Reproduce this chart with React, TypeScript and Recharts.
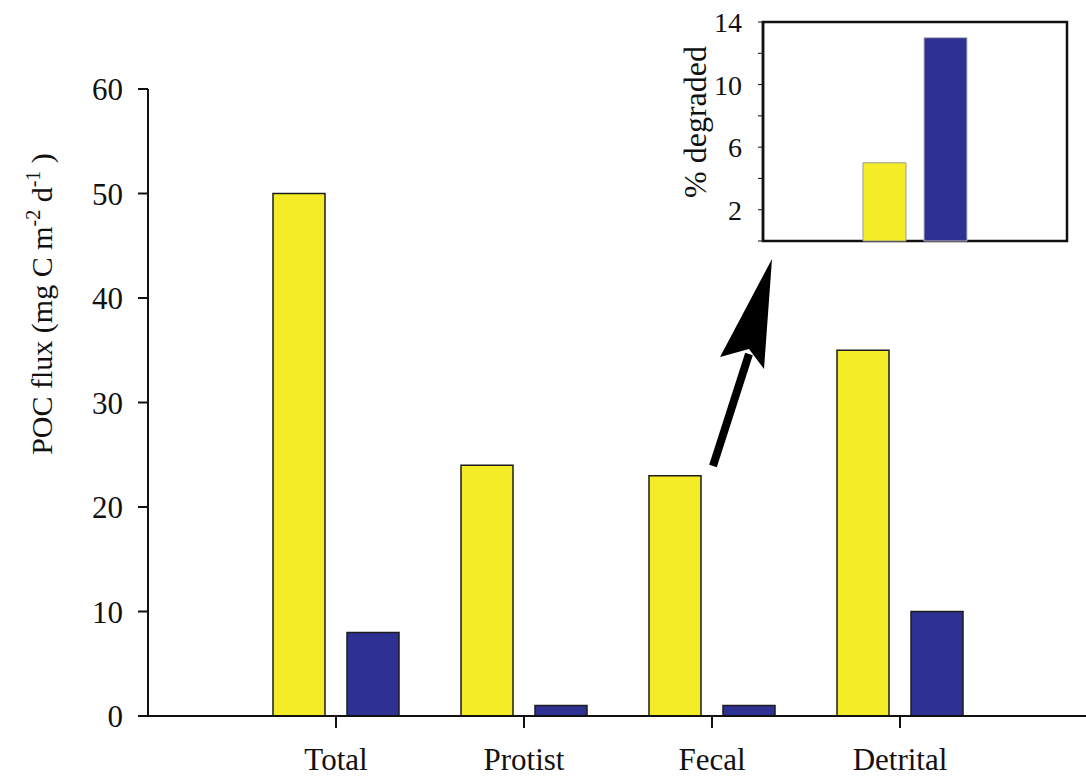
import React from 'react';
import { BarChart, Bar, XAxis, YAxis, ReferenceArea } from 'recharts';

const SERIF = '"Liberation Serif", "Times New Roman", serif';
const YELLOW = '#F4EC27';
const BLUE = '#2E3192';
const INK = '#111';

// main panel: POC flux per category
const categories = ['Total', 'Protist', 'Fecal', 'Detrital'];
const yellowFlux = [50, 24, 23, 35];
const blueFlux = [8, 1, 1, 10];
const fluxTicks = [0, 10, 20, 30, 40, 50, 60];

// inset: % degraded
const insetCategories = ['Fecal'];
const insetYellow = [5];
const insetBlue = [13];
const insetTicks = [0, 2, 4, 6, 8, 10, 12, 14];
const insetTickLabels = [2, 6, 10, 14];

const mainData = categories.map((name, i) => ({
  name,
  yellow: yellowFlux[i],
  blue: blueFlux[i],
}));

const insetData = insetCategories.map((name, i) => ({
  name,
  yellow: insetYellow[i],
  blue: insetBlue[i],
}));

function FluxLabel() {
  return (
    <text
      x={0}
      y={0}
      transform="translate(52, 304) rotate(-90)"
      textAnchor="middle"
      fontFamily={SERIF}
      fontSize={30}
      fill={INK}
    >
      POC flux (mg C m
      <tspan dy={-12} fontSize={20}>-2</tspan>
      <tspan dy={12}> d</tspan>
      <tspan dy={-12} fontSize={20}>-1</tspan>
      <tspan dy={12}> )</tspan>
    </text>
  );
}

function DegradedLabel() {
  return (
    <text
      x={0}
      y={0}
      transform="translate(66, 122) rotate(-90)"
      textAnchor="middle"
      fontFamily={SERIF}
      fontSize={32}
      fill={INK}
    >
      % degraded
    </text>
  );
}

export default function App() {
  return (
    <div style={{ position: 'absolute', left: 0, top: 0, width: 1086, height: 778, background: '#fff' }}>
      <BarChart
        width={1086}
        height={778}
        data={mainData}
        margin={{ top: 89, right: 0, bottom: 12, left: 0 }}
        barGap={22}
      >
        <XAxis
          dataKey="name"
          height={50}
          padding={{ left: 94, right: 92 }}
          tickSize={12}
          tickMargin={20}
          axisLine={{ stroke: INK, strokeWidth: 2 }}
          tickLine={{ stroke: INK, strokeWidth: 2 }}
          tick={{ fill: INK, fontSize: 31, fontFamily: SERIF }}
        />
        <YAxis
          width={148}
          domain={[0, 60]}
          ticks={fluxTicks}
          tickSize={10}
          tickMargin={15}
          axisLine={{ stroke: INK, strokeWidth: 2 }}
          tickLine={{ stroke: INK, strokeWidth: 2 }}
          tick={{ fill: INK, fontSize: 31, fontFamily: SERIF }}
          label={{ content: () => <FluxLabel /> }}
        />
        <Bar dataKey="yellow" fill={YELLOW} stroke="#1c1c1c" strokeWidth={1.5} barSize={52} isAnimationActive={false} />
        <Bar dataKey="blue" fill={BLUE} stroke="#1c1c1c" strokeWidth={1.5} barSize={52} isAnimationActive={false} />
      </BarChart>

      <div style={{ position: 'absolute', left: 640, top: 0 }}>
        <BarChart
          width={446}
          height={270}
          data={insetData}
          margin={{ top: 22, right: 13, bottom: 29, left: 0 }}
          barGap={18}
        >
          <XAxis
            dataKey="name"
            height={0}
            padding={{ left: 0, right: 6 }}
            tick={false}
            tickLine={false}
            axisLine={false}
          />
          <YAxis
            width={123}
            domain={[0, 14]}
            ticks={insetTicks}
            tickSize={5}
            tickMargin={16}
            tickFormatter={(v: number) => (insetTickLabels.includes(v) ? String(v) : '')}
            axisLine={{ stroke: INK, strokeWidth: 2.5 }}
            tickLine={{ stroke: INK, strokeWidth: 1 }}
            tick={{ fill: INK, fontSize: 28, fontFamily: SERIF }}
            label={{ content: () => <DegradedLabel /> }}
          />
          <Bar dataKey="yellow" fill={YELLOW} stroke="#999" strokeWidth={1} barSize={43} isAnimationActive={false} />
          <Bar dataKey="blue" fill={BLUE} stroke="#bbb" strokeWidth={1} barSize={43} isAnimationActive={false} />
          <ReferenceArea y1={0} y2={14} fill="none" fillOpacity={0} stroke={INK} strokeWidth={2.5} strokeOpacity={1} />
        </BarChart>
      </div>

      {/* annotation arrow from the fecal bar to the inset */}
      <svg
        width={1086}
        height={778}
        style={{ position: 'absolute', left: 0, top: 0, pointerEvents: 'none' }}
      >
        <line x1={713} y1={466} x2={749} y2={354} stroke="#000" strokeWidth={8} />
        <polygon points="772,259 720,357 749,349 764,369" fill="#000" />
      </svg>
    </div>
  );
}
